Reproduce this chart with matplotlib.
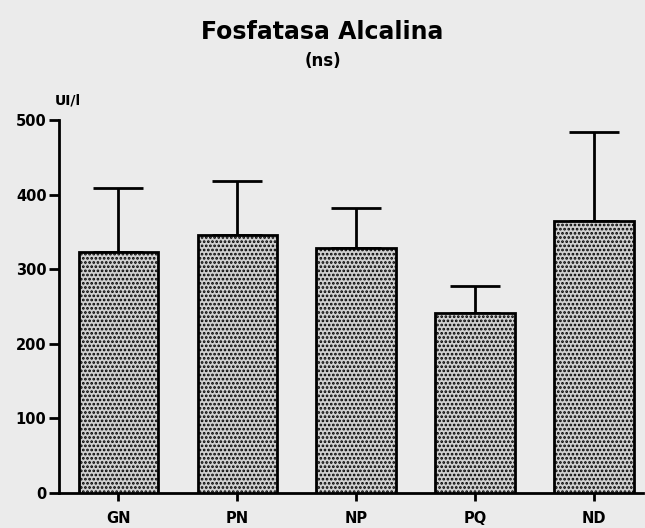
import numpy as np
import matplotlib.pyplot as plt

groups = ['GN', 'PN', 'NP', 'PQ', 'ND']
means = [323, 346, 328, 241, 365]
sd = [86, 72, 54, 36, 119]
yticks = [0, 100, 200, 300, 400, 500]

plt.rcParams['hatch.linewidth'] = 1.3
plt.rcParams['font.family'] = 'DejaVu Sans'
plt.rcParams['font.weight'] = 'bold'

fig = plt.figure(figsize=(6.45, 5.28), dpi=100, facecolor='#ebebeb')
ax = fig.add_axes([0.0915, 0.066, 0.905, 0.707])
ax.set_facecolor('#ebebeb')

x = np.arange(len(groups))
ax.bar(x, means, width=0.67, color='#d0d0d0', edgecolor='black',
       linewidth=2.0, hatch='....', zorder=3)
ax.errorbar(x, means, yerr=[np.zeros(len(sd)), sd], fmt='none',
            ecolor='black', elinewidth=2.0, capsize=18, capthick=2.0, zorder=2)

ax.set_xlim(-0.5, 4.41)
ax.set_ylim(0, 500)
ax.set_yticks(yticks)
ax.set_yticklabels([str(v) for v in yticks], fontsize=10.5, fontweight='bold')
ax.set_xticks(x)
ax.set_xticklabels(groups, fontsize=10.5, fontweight='bold')

for s in ['top', 'right']:
    ax.spines[s].set_visible(False)
for s in ['left', 'bottom']:
    ax.spines[s].set_linewidth(2.0)
ax.tick_params(axis='y', length=7, width=2.0, pad=2)
ax.tick_params(axis='x', length=6, width=2.0, pad=7)

fig.text(0.5, 0.94, 'Fosfatasa Alcalina', ha='center', va='center',
         fontsize=17, fontweight='bold')
fig.text(0.5, 0.885, '(ns)', ha='center', va='center',
         fontsize=12, fontweight='bold')
fig.text(0.085, 0.81, 'UI/l', ha='left', va='center',
         fontsize=10, fontweight='bold')

fig.savefig('out.png', dpi=100, facecolor=fig.get_facecolor())
